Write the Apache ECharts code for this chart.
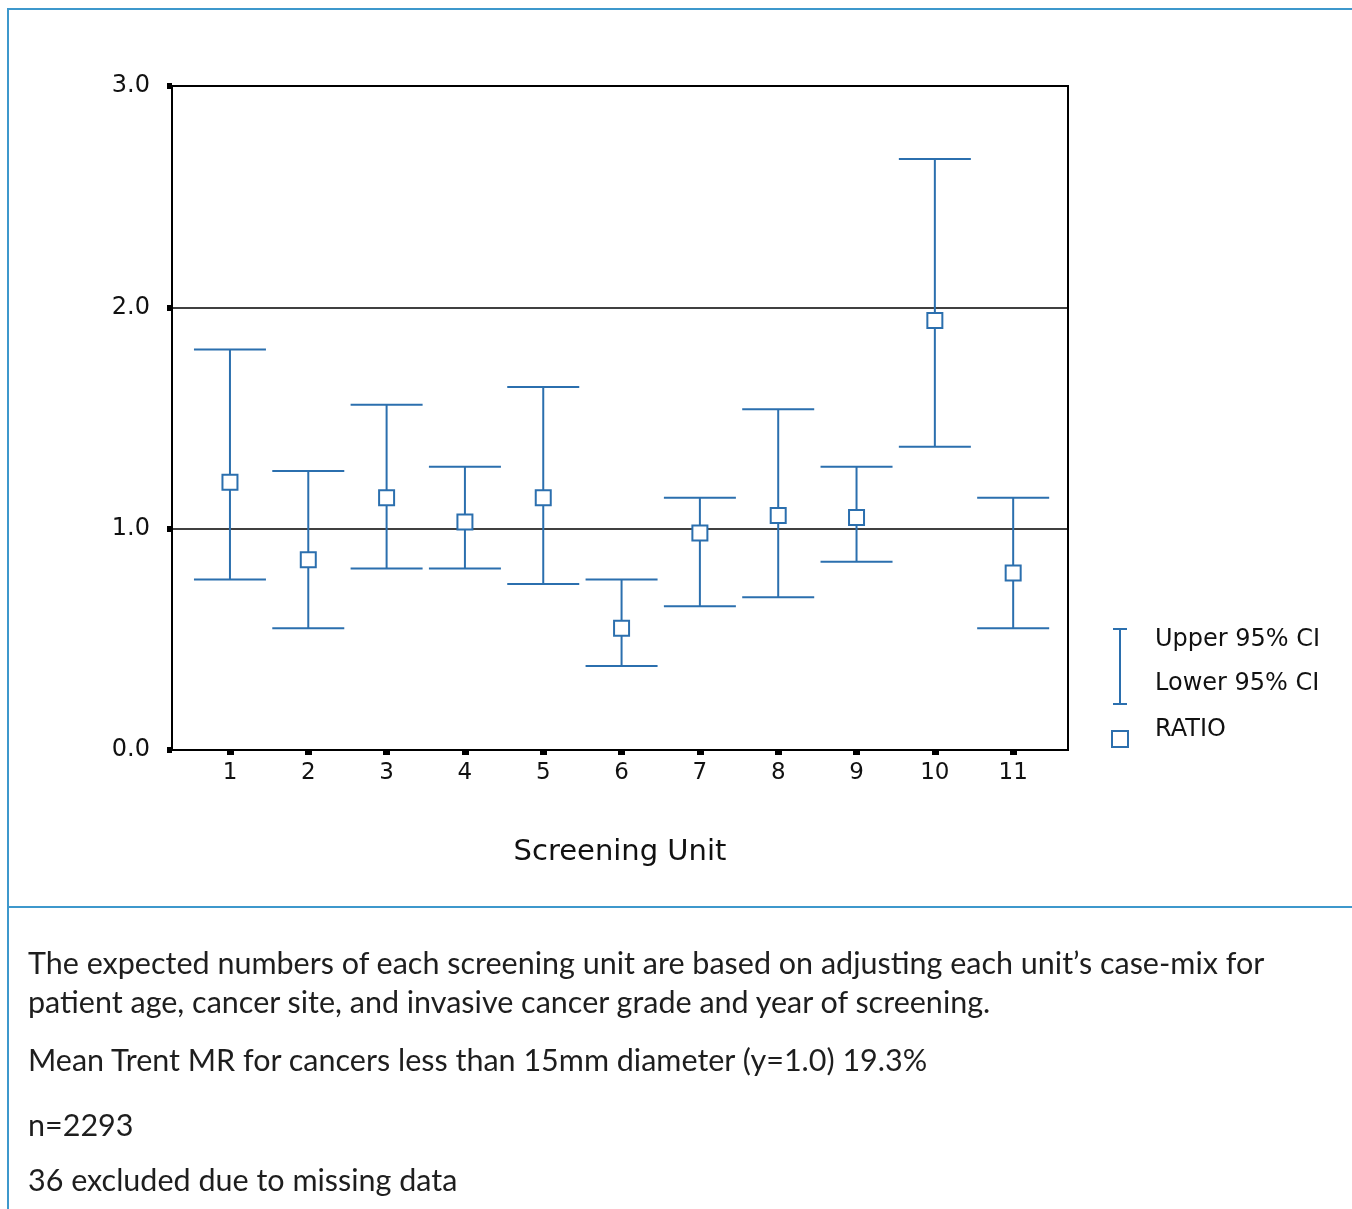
<!DOCTYPE html>
<html>
<head>
<meta charset="utf-8">
<script src="https://cdn.jsdelivr.net/npm/echarts@6/dist/echarts.min.js"></script>
<style>
html,body{margin:0;padding:0;background:#fff;}
#wrap{position:relative;width:1352px;height:1209px;overflow:hidden;}
#chart{position:absolute;left:0;top:0;width:1352px;height:1209px;}
.cap{position:absolute;left:28px;font-family:Lato,"Open Sans",sans-serif;font-size:30.5px;color:#1e1e1e;white-space:nowrap;}
.frame{position:absolute;background:#3e98cc;}
</style>
</head>
<body>
<div id="wrap">
<div id="chart"></div>
<div class="frame" style="left:7px;top:8px;width:1345px;height:2px;"></div>
<div class="frame" style="left:7px;top:8px;width:2px;height:1201px;"></div>
<div class="frame" style="left:9px;top:906px;width:1343px;height:2px;"></div>
<div class="cap" style="top:944px;">The expected numbers of each screening unit are based on adjusting each unit’s case-mix for</div>
<div class="cap" style="top:983px;">patient age, cancer site, and invasive cancer grade and year of screening.</div>
<div class="cap" style="top:1041px;">Mean Trent MR for cancers less than 15mm diameter (y=1.0) 19.3%</div>
<div class="cap" style="top:1106px;">n=2293</div>
<div class="cap" style="top:1161px;">36 excluded due to missing data</div>
</div>
<script>
const units = [1,2,3,4,5,6,7,8,9,10,11];
const ratio = [1.21,0.86,1.14,1.03,1.14,0.55,0.98,1.06,1.05,1.94,0.80];
const upper = [1.81,1.26,1.56,1.28,1.64,0.77,1.14,1.54,1.28,2.67,1.14];
const lower = [0.77,0.55,0.82,0.82,0.75,0.38,0.65,0.69,0.85,1.37,0.55];
const yTicks = [0,1,2,3];

const BLUE = '#2b6fae';
const FONT = '"DejaVu Sans", sans-serif';

const chart = echarts.init(document.getElementById('chart'));
const errData = units.map((u,i)=>[u, lower[i], upper[i]]);
const ratioData = units.map((u,i)=>[u, ratio[i]]);

chart.setOption({
  animation:false,
  grid:{left:172, top:86, right:284, bottom:459, show:true, borderColor:'#000', borderWidth:2, containLabel:false},
  xAxis:{
    type:'value', min:0.26, max:11.7,
    axisLine:{show:true, lineStyle:{color:'#000', width:2}},
    axisTick:{show:true, customValues:units, length:5, lineStyle:{color:'#000', width:7}},
    axisLabel:{show:true, customValues:units, margin:12, color:'#111', fontFamily:FONT, fontSize:23},
    splitLine:{show:false},
    name:'Screening Unit', nameLocation:'middle', nameGap:88,
    nameTextStyle:{fontFamily:FONT, fontSize:29, color:'#111'}
  },
  yAxis:{
    type:'value', min:0, max:3, interval:1,
    axisLine:{show:true, lineStyle:{color:'#000', width:2}},
    axisTick:{show:true, length:5, lineStyle:{color:'#000', width:6}},
    axisLabel:{formatter:v=>v.toFixed(1), margin:22, color:'#111', fontFamily:FONT, fontSize:24},
    splitLine:{show:true, lineStyle:{color:'#000', width:1.5}}
  },
  series:[
    {
      type:'custom',
      data:errData,
      encode:{x:0, y:[1,2]},
      renderItem:function(params, api){
        const x = api.value(0);
        const pLo = api.coord([x, api.value(1)]);
        const pHi = api.coord([x, api.value(2)]);
        const hw = 36;
        const st = {stroke:BLUE, lineWidth:2, fill:null};
        return {type:'group', children:[
          {type:'line', shape:{x1:pHi[0], y1:pHi[1], x2:pLo[0], y2:pLo[1]}, style:st},
          {type:'line', shape:{x1:pHi[0]-hw, y1:pHi[1], x2:pHi[0]+hw, y2:pHi[1]}, style:st},
          {type:'line', shape:{x1:pLo[0]-hw, y1:pLo[1], x2:pLo[0]+hw, y2:pLo[1]}, style:st}
        ]};
      },
      z:3
    },
    {
      type:'scatter',
      data:ratioData,
      symbol:'rect',
      symbolSize:15,
      itemStyle:{color:'#fff', borderColor:BLUE, borderWidth:2, opacity:1},
      z:5
    }
  ],
  graphic:[
    {type:'line', shape:{x1:1120,y1:629,x2:1120,y2:704}, style:{stroke:BLUE,lineWidth:2}},
    {type:'line', shape:{x1:1113,y1:629,x2:1127,y2:629}, style:{stroke:BLUE,lineWidth:2}},
    {type:'line', shape:{x1:1113,y1:704,x2:1127,y2:704}, style:{stroke:BLUE,lineWidth:2}},
    {type:'rect', shape:{x:1112,y:731,width:16,height:16}, style:{fill:'#fff',stroke:BLUE,lineWidth:2}},
    {type:'text', left:1155, top:628, style:{text:'Upper 95% CI', fontFamily:FONT, fontSize:24, fill:'#111'}},
    {type:'text', left:1155, top:672, style:{text:'Lower 95% CI', fontFamily:FONT, fontSize:24, fill:'#111'}},
    {type:'text', left:1155, top:718, style:{text:'RATIO', fontFamily:FONT, fontSize:24, fill:'#111'}}
  ]
});
</script>
</body>
</html>
